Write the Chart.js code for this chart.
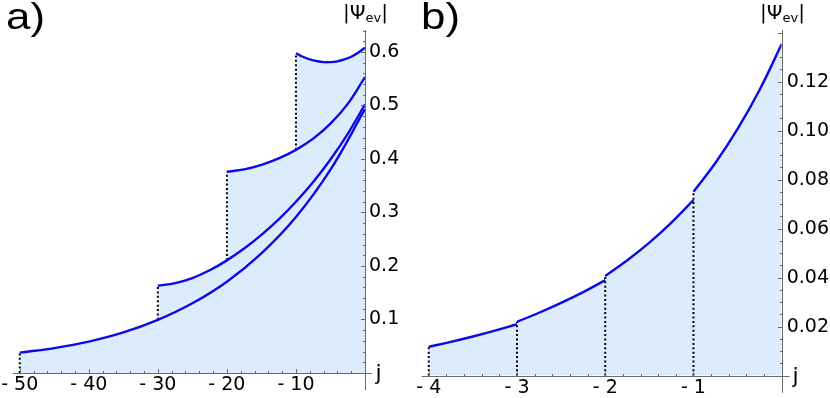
<!DOCTYPE html>
<html><head><meta charset="utf-8">
<script src="https://cdn.jsdelivr.net/npm/chart.js@4.4.1/dist/chart.umd.min.js"></script>
<style>
html,body{margin:0;padding:0;background:#fff;overflow:hidden;width:830px;height:398px;}
#wa{position:absolute;left:0;top:0;width:415px;height:398px;}
#wb{position:absolute;left:415px;top:0;width:415px;height:398px;}
</style></head><body>
<div id="wa"><canvas id="ca" width="415" height="398"></canvas></div>
<div id="wb"><canvas id="cb" width="415" height="398"></canvas></div>
<script>
// ---------- Panel a) data ----------
const aJ_A = [-50, -45, -40, -35, -30, -25, -20, -15, -10, -5, 0];
const aV_A = [0.038, 0.0466, 0.0587, 0.0758, 0.0993, 0.1303, 0.1707, 0.2236, 0.2915, 0.380, 0.493];
const aJ_B = [-30, -27.5, -25, -22.5, -20, -17.5, -15, -12.5, -10, -7.5, -5, -2.5, 0];
const aV_B = [0.163, 0.168, 0.1775, 0.192, 0.2105, 0.2325, 0.258, 0.287, 0.320, 0.357, 0.399, 0.447, 0.502];
const aJ_C = [-20, -17.5, -15, -12.5, -10, -7.5, -5, -2.5, 0];
const aV_C = [0.376, 0.3805, 0.389, 0.401, 0.417, 0.438, 0.466, 0.503, 0.553];
const aJ_D = [-10, -9, -8, -7, -6, -5, -4, -3, -2, -1, 0];
const aV_D = [0.5975, 0.591, 0.586, 0.583, 0.581, 0.581, 0.5825, 0.586, 0.591, 0.5985, 0.608];
const aJumpJ = [-50, -30, -20, -10];
const aJumpLow = [0, 0.0993, 0.2105, 0.417];
const aJumpHigh = [0.038, 0.163, 0.376, 0.5975];
const aXTicks = [-50, -40, -30, -20, -10];
const aYTicks = [0.1, 0.2, 0.3, 0.4, 0.5, 0.6];

// ---------- Panel b) data ----------
const bJ_1 = [-4, -3.75, -3.5, -3.25, -3];
const bV_1 = [0.0118, 0.0138, 0.016, 0.0184, 0.021];
const bJ_2 = [-3, -2.75, -2.5, -2.25, -2];
const bV_2 = [0.022, 0.0257, 0.0297, 0.0341, 0.039];
const bJ_3 = [-2, -1.75, -1.5, -1.25, -1];
const bV_3 = [0.0407, 0.0471, 0.0543, 0.0625, 0.0717];
const bJ_4 = [-1, -0.75, -0.5, -0.25, 0];
const bV_4 = [0.0751, 0.0869, 0.1007, 0.1167, 0.1354];
const bJumpJ = [-4, -3, -2, -1];
const bJumpLow = [0, 0, 0, 0];
const bJumpHigh = [0.0118, 0.022, 0.0407, 0.0751];
const bXTicks = [-4, -3, -2, -1];
const bYTicks = [0.02, 0.04, 0.06, 0.08, 0.10, 0.12];

// ---------- styling ----------
const BLUE = '#0a0ae6';
const FILL = 'rgb(221,236,252)';
const AXIS = '#6a6a6a';
const FONT = '"DejaVu Sans", Verdana, sans-serif';
const TAGFONT = '"Liberation Sans", Arial, sans-serif';

function pts(js, vs) { return js.map((j, i) => ({x: j, y: vs[i]})); }

function curveSet(js, vs) {
  return {data: pts(js, vs), borderColor: BLUE, borderWidth: 2.4, pointRadius: 0,
    fill: 'origin', backgroundColor: FILL, tension: 0.4, order: 0};
}
function jumpSets(js, lo, hi) {
  return js.map((j, i) => ({data: [{x: j, y: lo[i]}, {x: j, y: hi[i]}], borderColor: '#000',
    borderWidth: 2, borderDash: [2, 2.4], pointRadius: 0, fill: false, order: 5}));
}
function fmtX(v) { return v < 0 ? '- ' + Math.abs(v) : String(v); }

function decorPlugin(p) {
  return {
    id: 'decor' + p.tag,
    afterDatasetsDraw(chart) {
      const ctx = chart.ctx, xs = chart.scales.x, ys = chart.scales.y, ca = chart.chartArea;
      const x0 = Math.round(xs.getPixelForValue(0)) + 0.5;
      const y0 = Math.round(ys.getPixelForValue(0)) + 0.5;
      ctx.save();
      ctx.strokeStyle = AXIS; ctx.lineWidth = 1;
      ctx.beginPath();
      ctx.moveTo(ca.left, y0); ctx.lineTo(xs.getPixelForValue(p.xEnd), y0);
      ctx.moveTo(x0, ys.getPixelForValue(p.yEnd)); ctx.lineTo(x0, ca.top);
      for (let v = p.xMinorStart; v < 0 - 1e-9; v += p.xMinor) {
        const isMajor = Math.abs(v / p.xMajor - Math.round(v / p.xMajor)) < 1e-6;
        const px = Math.round(xs.getPixelForValue(v)) + 0.5;
        ctx.moveTo(px, y0); ctx.lineTo(px, y0 - (isMajor ? 4.5 : 2.5));
      }
      for (let v = p.yMinor; v <= ys.max + 1e-9; v += p.yMinor) {
        const isMajor = Math.abs(v / p.yMajor - Math.round(v / p.yMajor)) < 1e-6;
        const py = Math.round(ys.getPixelForValue(v)) + 0.5;
        ctx.moveTo(x0, py); ctx.lineTo(x0 - (isMajor ? 4.5 : 2.5), py);
      }
      ctx.stroke();
      ctx.fillStyle = '#000';
      ctx.textBaseline = 'alphabetic';
      ctx.textAlign = 'left';
      // panel tag, drawn slightly wide like the original
      ctx.save();
      ctx.translate(p.tagX, 29);
      ctx.scale(1.22, 1);
      ctx.font = '36px ' + TAGFONT;
      ctx.fillText(p.tag + ')', 0, 0);
      ctx.restore();
      // |Psi_ev| axis label
      const big = '20px ' + FONT, small = '13px ' + FONT;
      ctx.font = big; const w1 = ctx.measureText('|\u03A8').width; const w3 = ctx.measureText('|').width;
      ctx.font = small; const w2 = ctx.measureText('ev').width;
      const sx = x0 - (w1 + w2 + w3) / 2;
      const base = 18.5;
      ctx.font = big; ctx.fillText('|\u03A8', sx, base);
      ctx.font = small; ctx.fillText('ev', sx + w1, base + 3.5);
      ctx.font = big; ctx.fillText('|', sx + w1 + w2, base);
      // j axis label
      ctx.font = '22px ' + FONT;
      ctx.fillText('j', x0 + 10, y0 + 6);
      ctx.restore();
    }
  };
}

function buildChart(id, p) {
  const datasets = p.curves.concat(p.jumps);
  return new Chart(document.getElementById(id), {
    type: 'line',
    data: {datasets},
    options: {
      responsive: false, animation: false, events: [],
      layout: {padding: {left: p.padLeft, top: 30, right: 0, bottom: 0}},
      plugins: {legend: {display: false}, tooltip: {enabled: false}, filler: {drawTime: 'beforeDatasetsDraw'}},
      scales: {
        x: {type: 'linear', min: p.xMin, max: 0, position: 'bottom',
          grid: {display: false, drawTicks: false}, border: {display: false},
          afterBuildTicks: s => { s.ticks = p.xTicks.map(v => ({value: v})); },
          afterFit: s => { s.height = p.xAxisH; },
          ticks: {autoSkip: false, maxRotation: 0, minRotation: 0, padding: 1, color: '#000',
            font: {family: FONT, size: 19}, callback: v => fmtX(v)}},
        y: {type: 'linear', min: 0, max: p.yMax, position: 'right',
          grid: {display: false, drawTicks: false}, border: {display: false},
          afterBuildTicks: s => { s.ticks = p.yTicks.map(v => ({value: v})); },
          afterFit: s => { s.width = p.yAxisW; },
          ticks: {autoSkip: false, padding: p.yPad, color: '#000',
            font: {family: FONT, size: 19}, callback: v => v.toFixed(p.yDec)}}
      }
    },
    plugins: [decorPlugin(p)]
  });
}

buildChart('ca', {
  tag: 'a', tagX: 6,
  curves: [curveSet(aJ_A, aV_A), curveSet(aJ_B, aV_B), curveSet(aJ_C, aV_C), curveSet(aJ_D, aV_D)],
  jumps: jumpSets(aJumpJ, aJumpLow, aJumpHigh),
  xMin: -51, yMax: 0.641, padLeft: 10, xAxisH: 25, yAxisW: 50, yPad: 4, yDec: 1,
  xTicks: aXTicks, yTicks: aYTicks,
  xEnd: 1, yEnd: -0.032, xMinorStart: -50, xMinor: 2, xMajor: 10, yMinor: 0.02, yMajor: 0.1
});
buildChart('cb', {
  tag: 'b', tagX: 6,
  curves: [curveSet(bJ_1, bV_1), curveSet(bJ_2, bV_2), curveSet(bJ_3, bV_3), curveSet(bJ_4, bV_4)],
  jumps: jumpSets(bJumpJ, bJumpLow, bJumpHigh),
  xMin: -4.08, yMax: 0.1411, padLeft: 6.7, xAxisH: 22.3, yAxisW: 48.3, yPad: 5, yDec: 2,
  xTicks: bXTicks, yTicks: bYTicks,
  xEnd: 0.09, yEnd: -0.007, xMinorStart: -4, xMinor: 0.2, xMajor: 1, yMinor: 0.005, yMajor: 0.02
});
</script>
</body></html>
